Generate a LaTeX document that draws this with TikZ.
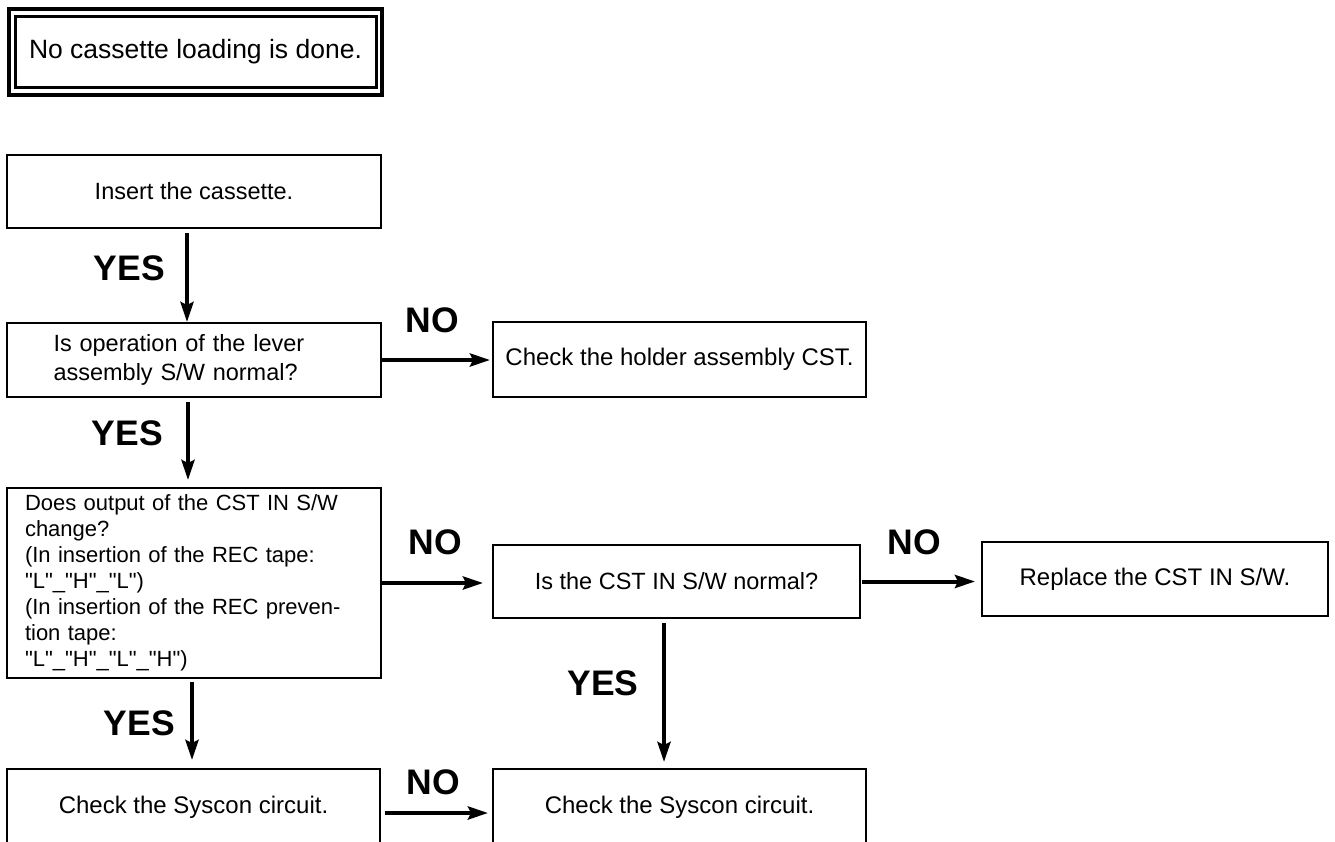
\documentclass[tikz,border=0pt]{standalone}
\usepackage{fontspec}
\setmainfont{Liberation Sans}[Ligatures=TeXOff]
\usetikzlibrary{arrows.meta}
\tikzset{
  box/.style={draw, line width=2pt, outer sep=0pt, inner sep=0pt, align=center,
    font=\fontsize{23.5}{26}\selectfont},
  bigbox/.style={box, font=\fontsize{24}{26}\selectfont},
  openbox/.style={draw, line width=2pt, outer sep=0pt, inner xsep=0pt, inner ysep=0pt,
    anchor=north, text height=44pt, text depth=100pt, minimum width=373pt,
    font=\fontsize{24}{26}\selectfont},
  arr/.style={line width=4pt, -{Stealth[length=20pt,width=13pt,inset=3pt]}},
  yn/.style={font=\bfseries\fontsize{35.5}{36}\selectfont, inner sep=0pt}
}
\begin{document}
\begin{tikzpicture}[x=1pt,y=-1pt]
\useasboundingbox (0,0) rectangle (1335,842);
\clip (0,0) rectangle (1335,842);

% title
\node[draw, line width=4pt, outer sep=0pt, minimum width=373pt, minimum height=86pt,
  font=\fontsize{26.5}{28}\selectfont] (title) at (195.5,52) {No cassette loading is done.};
\draw[line width=3pt] ([shift={(6.5pt,-7.5pt)}]title.north west) rectangle ([shift={(-5.5pt,7.5pt)}]title.south east);

% boxes
\node[box, minimum width=374pt, minimum height=73pt] (b1) at (194,191.5) {Insert the cassette.};
\node[box, minimum width=374pt, minimum height=74pt, text width=281pt, align=left,
  font=\fontsize{23.5}{29}\selectfont] (b2) at (194,360) {Is operation of the lever\\assembly S/W normal?};
\node[bigbox, minimum width=373pt, minimum height=75pt] (holder) at (679.5,359.5) {Check the holder assembly CST.};
\node[box, minimum width=374pt, minimum height=190pt, text width=338pt, align=left,
  font=\fontsize{22}{26}\selectfont] (b3) at (194,583)
  {Does output of the CST IN S/W\\change?\\(In insertion of the REC tape:\\"L"\_"H"\_"L")\\(In insertion of the REC preven-\\tion tape:\\"L"\_"H"\_"L"\_"H")};
\node[box, minimum width=367pt, minimum height=73pt] (cst) at (676.5,581.5) {Is the CST IN S/W normal?};
\node[bigbox, minimum width=346pt, minimum height=74pt] (rep) at (1155,579) {Replace the CST IN S/W.};
\node[openbox] (s1) at (193.5,769) {Check the Syscon circuit.};
\node[openbox] (s2) at (679.5,769) {Check the Syscon circuit.};

% vertical arrows
\draw[arr, shorten <=5pt, shorten >=1pt] ([xshift=-7pt]b1.south) -- ([xshift=-7pt]b2.north);
\draw[arr, shorten <=5pt, shorten >=8pt] ([xshift=-6pt]b2.south) -- ([xshift=-6pt]b3.north);
\draw[arr, shorten <=4pt, shorten >=9pt] ([xshift=-2pt]b3.south) -- ([xshift=-2pt]b3.south |- s1.north);
\draw[arr, shorten <=5pt, shorten >=7pt] ([xshift=-12.5pt]cst.south) -- ([xshift=-12.5pt]cst.south |- s2.north);

% horizontal arrows
\draw[arr, shorten >=3pt] (b2.east) -- (b2.east -| holder.west);
\draw[arr, shorten >=10pt] (b3.east) -- (b3.east -| cst.west);
\draw[arr, shorten <=2pt, shorten >=7pt] (cst.east) -- (cst.east -| rep.west);
\draw[arr, shorten <=5pt, shorten >=5pt] ([yshift=-44pt]s1.north east) -- ([yshift=-44pt]s2.north west);

% labels
\node[yn] (y1) at (129.5,268) {YES};
\node[yn] (y2) at (127.5,433) {YES};
\node[yn] (y3) at (139.5,723) {YES};
\node[yn] (y4) at (603,683) {YES};
\node[yn] (n1) at (432,320) {NO};
\node[yn] (n2) at (435,542) {NO};
\node[yn] (n3) at (914,542) {NO};
\node[yn] (n4) at (433,782) {NO};
\end{tikzpicture}
\end{document}
